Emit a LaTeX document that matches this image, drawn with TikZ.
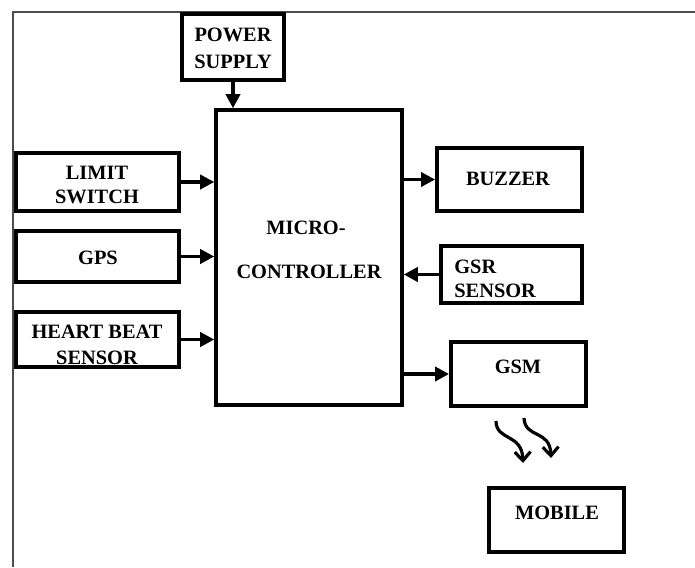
\documentclass[tikz,border=0pt]{standalone}
\usepackage{fontspec}
\setmainfont{Liberation Serif}[BoldFont={Liberation Serif Bold}]
\usetikzlibrary{arrows.meta}
\tikzset{
	blk/.style={draw,line width=2.2pt,inner sep=0pt},
	txt/.style={font=\fontsize{11.6}{14}\selectfont\bfseries,inner sep=0pt},
	arr/.style={line width=2.2pt,-{Triangle[length=8pt,width=8pt]}},
	wav/.style={line width=1.8pt,-{Straight Barb[length=5pt,width=9pt,line width=1.8pt]}}
}
\begin{document}
\begin{tikzpicture}[x=0.02cm,y=-0.02cm]
		\useasboundingbox (0,0) rectangle (695,567);
		\draw[gray!60!black,line width=0.6pt] (13,567)--(13,12)--(695,12);
		% labels
		\node[txt] (pwr1) at (233,35) {POWER};
		\node[txt] (pwr2) at (233,62) {SUPPLY};
		\node[txt] (mc1) at (306,228) {MICRO-};
		\node[txt] (mc2) at (309,272) {CONTROLLER};
		\node[txt] (lim1) at (97,173) {LIMIT};
		\node[txt] (lim2) at (97,197) {SWITCH};
		\node[txt] (gps1) at (98,258) {GPS};
		\node[txt] (hb1) at (97,332) {HEART BEAT};
		\node[txt] (hb2) at (97,358) {SENSOR};
		\node[txt] (buz1) at (508,179) {BUZZER};
		\node[txt,anchor=west] (gsr1) at (454,267) {GSR};
		\node[txt,anchor=west] (gsr2) at (454,291) {SENSOR};
		\node[txt] (gsm1) at (518,367) {GSM};
		\node[txt] (mob1) at (557,513) {MOBILE};
		% boxes
		\node[blk,minimum width=2.04cm,minimum height=1.32cm] (power) at (233,47) {};
		\node[blk,line width=2pt,minimum width=3.72cm,minimum height=5.9cm] (micro) at (309,257.5) {};
		\node[blk,minimum width=3.26cm,minimum height=1.16cm] (limit) at (97.5,182) {};
		\node[blk,minimum width=3.26cm,minimum height=1.02cm] (gps) at (97.5,256.5) {};
		\node[blk,minimum width=3.26cm,minimum height=1.1cm] (heart) at (97.5,339.5) {};
		\node[blk,minimum width=2.9cm,minimum height=1.26cm] (buzzer) at (509.5,179.5) {};
		\node[blk,minimum width=2.82cm,minimum height=1.14cm] (gsr) at (511.5,274.5) {};
		\node[blk,minimum width=2.7cm,minimum height=1.28cm] (gsm) at (518.5,374) {};
		\node[blk,minimum width=2.7cm,minimum height=1.28cm] (mobile) at (556.5,520) {};
		% arrows
		\draw[arr] (power.south)--(power.south |- micro.north);
		\draw[arr] (limit.east)--(limit.east -| micro.west);
		\draw[arr] (gps.east)--(gps.east -| micro.west);
		\draw[arr] (heart.east)--(heart.east -| micro.west);
		\draw[arr] (buzzer.west -| micro.east)--(buzzer.west);
		\draw[arr] (gsr.west)--(gsr.west -| micro.east);
		\draw[arr] (gsm.west -| micro.east)--(gsm.west);
		% signal to mobile
		\coordinate (w1) at (496,421);
		\coordinate (w2) at (524,418);
		\coordinate (t1) at (523,463);
		\coordinate (t2) at (551,458);
		\draw[wav] (w1) .. controls (496,441) and (522,433) .. (t1);
		\draw[wav] (w2) .. controls (525,439) and (550,429) .. (t2);
	\end{tikzpicture}
\end{document}
